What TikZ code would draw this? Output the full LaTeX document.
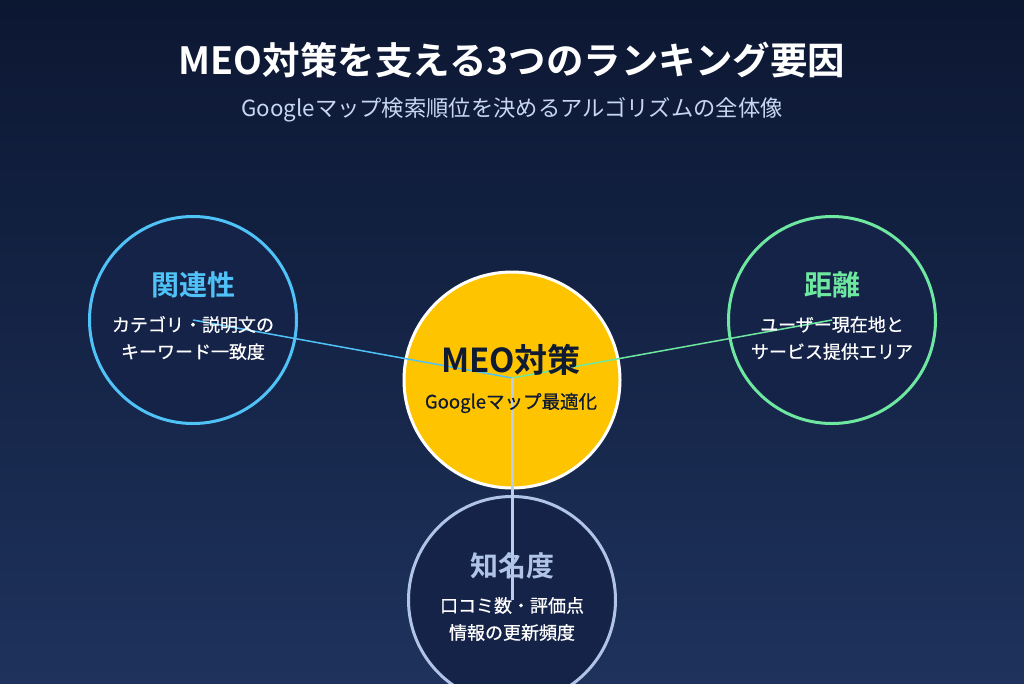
\documentclass[tikz,border=0pt]{standalone}
\usepackage{fontspec}
\setmainfont{Noto Sans CJK JP}
\newfontfamily\jpb{Noto Sans CJK JP Bold}
\newfontfamily\jpm[FakeBold=0.6]{Noto Sans CJK JP}
\definecolor{bgtop}{RGB}{12,23,50}
\definecolor{bgbot}{RGB}{30,50,92}
\definecolor{cfill}{RGB}{21,35,72}
\definecolor{cblue}{RGB}{79,195,247}
\definecolor{cgreen}{RGB}{110,231,160}
\definecolor{cperi}{RGB}{176,196,232}
\definecolor{cyellow}{RGB}{255,196,0}
\definecolor{navy}{RGB}{15,26,51}
\definecolor{subc}{RGB}{200,214,240}
\tikzset{
  outer/.style={circle, minimum size=207pt, inner sep=0pt, line width=3pt, fill=cfill},
  heading/.style={font=\jpb\fontsize{28}{30}\selectfont, inner sep=0pt},
  body/.style={font=\jpm\fontsize{18}{27}\selectfont, text=white, align=center, inner sep=0pt},
}
\begin{document}
\begin{tikzpicture}[x=1pt,y=-1pt]
\shade[top color=bgtop, bottom color=bgbot] (0,0) rectangle (1024,683);
\useasboundingbox (0,0) rectangle (1024,683);
% title
\node[font=\jpb\fontsize{37.5}{40}\selectfont, text=white, inner sep=0pt] (title) at (512,60) {MEO対策を支える3つのランキング要因};
\node[font=\fontsize{22.3}{24}\selectfont, text=subc, inner sep=0pt] (sub) at (512,110) {Googleマップ検索順位を決めるアルゴリズムの全体像};
% circles
\node[outer, draw=cblue] (rel) at (193,320) {};
\node[outer, draw=cgreen] (dist) at (832,320) {};
\node[outer, draw=cperi] (fame) at (512,600) {};
\node[circle, minimum size=216pt, inner sep=0pt, line width=3pt, draw=white, fill=cyellow] (meo) at (512,380) {};
% connectors
\coordinate (hub) at (512,378);
\draw[cblue, line width=1.5pt] (hub) -- (rel.center);
\draw[cgreen, line width=1.5pt] (hub) -- (dist.center);
\draw[cperi!85!white, line width=3pt] (hub) -- (fame.center);
% texts
\node[heading, text=cblue] (relh) at (193,285) {関連性};
\node[body] (relt) at (193,338) {カテゴリ・説明文の\\キーワード一致度};
\node[heading, text=cgreen] (disth) at (832,285) {距離};
\node[body] (distt) at (832,338) {ユーザー現在地と\\サービス提供エリア};
\node[heading, text=cperi] (fameh) at (512,566) {知名度};
\node[body] (famet) at (512,619) {口コミ数・評価点\\情報の更新頻度};
\node[font=\jpb\fontsize{33}{34}\selectfont, text=navy, inner sep=0pt] (meoh) at (511,360) {MEO対策};
\node[font=\jpm\fontsize{18.5}{20}\selectfont, text=navy, inner sep=0pt] (meot) at (511,403) {Googleマップ最適化};
\end{tikzpicture}
\end{document}
